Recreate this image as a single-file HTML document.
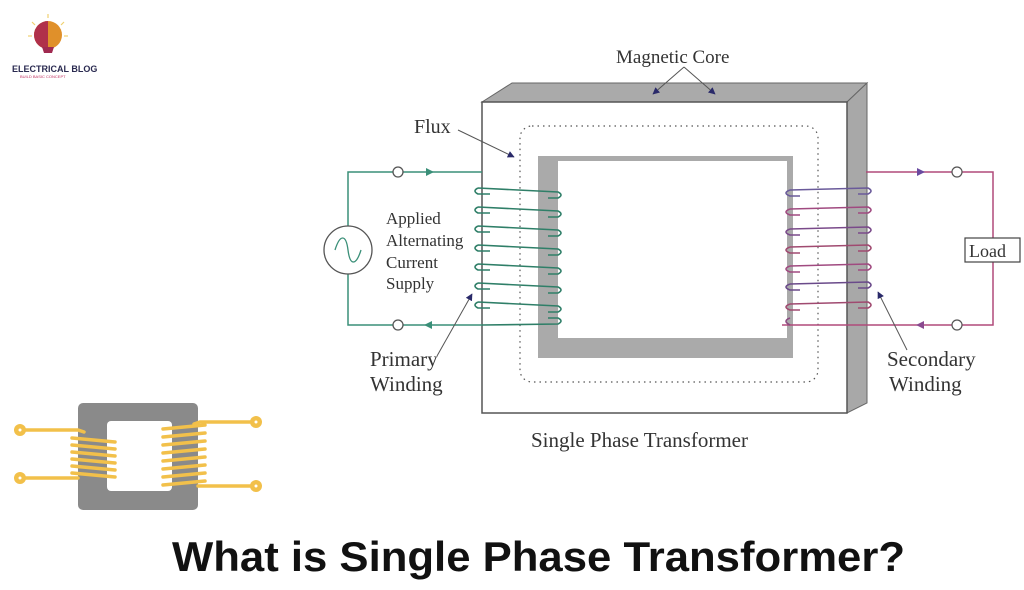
<!DOCTYPE html>
<html><head><meta charset="utf-8"><style>
html,body{margin:0;padding:0;background:#fff;}
svg{display:block}
text{font-family:"Liberation Serif",serif;fill:#333}
</style></head><body>
<svg width="1024" height="590" viewBox="0 0 1024 590" xmlns="http://www.w3.org/2000/svg">
<defs>
<marker id="ah" viewBox="0 0 10 10" refX="9" refY="5" markerWidth="7" markerHeight="7" orient="auto"><path d="M0,0 L10,5 L0,10 z" fill="#2a2a6a"/></marker>
</defs>
<!-- logo -->
<g>
<g stroke="#f0d070" stroke-width="1.2">
<line x1="48" y1="14" x2="48" y2="18"/><line x1="32" y1="22" x2="35" y2="25"/><line x1="64" y1="22" x2="61" y2="25"/>
<line x1="28" y1="36" x2="32" y2="36"/><line x1="68" y1="36" x2="64" y2="36"/>
</g>
<circle cx="48" cy="35" r="14" fill="#e0902a"/>
<path d="M48,21 A14,14 0 0 0 48,49 z" fill="#b0304a"/>
<path d="M42,47 L54,47 L52,53 L44,53 z" fill="#a02a50"/>
<text x="12" y="72" style="font-family:'Liberation Sans',sans-serif;font-weight:bold;font-size:9px;fill:#2a2a50">ELECTRICAL BLOG</text>
<text x="20" y="78" style="font-family:'Liberation Sans',sans-serif;font-size:4px;fill:#c03060">BUILD BASIC CONCEPT</text>
</g>
<!-- core 3D -->
<polygon points="482,102 512,83 867,83 847,102" fill="#aaa" stroke="#666" stroke-width="1"/>
<polygon points="847,102 867,83 867,403 847,413" fill="#a8a8a8" stroke="#666" stroke-width="1"/>
<rect x="482" y="102" width="365" height="311" fill="#fff" stroke="#555" stroke-width="1.5"/>
<rect x="538" y="156" width="255" height="202" fill="#aaa"/>
<rect x="558" y="161" width="229" height="177" fill="#fff"/>
<rect x="520" y="126" width="298" height="256" rx="12" fill="none" stroke="#555" stroke-width="1.2" stroke-dasharray="1.5,4"/>
<!-- left circuit -->
<g stroke="#3a8f78" stroke-width="1.5" fill="none">
<polyline points="482,172 348,172 348,226"/>
<polyline points="482,325 348,325 348,274"/>
</g>
<circle cx="348" cy="250" r="24" fill="#fff" stroke="#555" stroke-width="1.3"/>
<path d="M335,250 C340,234 346,234 348,250 C350,266 356,266 361,250" fill="none" stroke="#3a8f78" stroke-width="1.3"/>
<circle cx="398" cy="172" r="5" fill="#fff" stroke="#555" stroke-width="1.3"/>
<circle cx="398" cy="325" r="5" fill="#fff" stroke="#555" stroke-width="1.3"/>
<polygon points="426,168 434,172 426,176" fill="#3a8f78"/>
<polygon points="432,321 424,325 432,329" fill="#3a8f78"/>
<!-- left coils -->
<g stroke="#2f7f68" stroke-width="1.6" fill="none">
<path d="M478,188 L558,192 Q564,195 558,198 L548,198 M490,194 L478,194 Q472,191 478,188"/>
<path d="M478,207 L558,211 Q564,214 558,217 L548,217 M490,213 L478,213 Q472,210 478,207"/>
<path d="M478,226 L558,230 Q564,233 558,236 L548,236 M490,232 L478,232 Q472,229 478,226"/>
<path d="M478,245 L558,249 Q564,252 558,255 L548,255 M490,251 L478,251 Q472,248 478,245"/>
<path d="M478,264 L558,268 Q564,271 558,274 L548,274 M490,270 L478,270 Q472,267 478,264"/>
<path d="M478,283 L558,287 Q564,290 558,293 L548,293 M490,289 L478,289 Q472,286 478,283"/>
<path d="M478,302 L558,306 Q564,309 558,312 L548,312 M490,308 L478,308 Q472,305 478,302"/>
<path d="M482,325 L558,324 Q564,321 558,318 L548,318"/>
</g>
<!-- right circuit -->
<g stroke="#b04a7a" stroke-width="1.5" fill="none">
<polyline points="866,172 993,172 993,238"/>
<polyline points="782,325 993,325 993,262"/>
</g>
<circle cx="957" cy="172" r="5" fill="#fff" stroke="#555" stroke-width="1.2"/>
<circle cx="957" cy="325" r="5" fill="#fff" stroke="#555" stroke-width="1.2"/>
<polygon points="917,168 925,172 917,176" fill="#6a4aa0"/>
<polygon points="924,321 916,325 924,329" fill="#8a4a90"/>
<rect x="965" y="238" width="55" height="24" fill="#fff" stroke="#444" stroke-width="1.2"/>
<text x="969" y="257" style="font-size:18px">Load</text>
<!-- right coils -->
<g stroke-width="1.6" fill="none">
<path stroke="#6a5a9a" d="M790,190 L868,188 Q874,191 868,194 L858,194 M790,190 Q782,193 790,196 L800,196"/>
<path stroke="#a04a80" d="M790,209 L868,207 Q874,210 868,213 L858,213 M790,209 Q782,212 790,215 L800,215"/>
<path stroke="#7a4a8a" d="M790,229 L868,227 Q874,230 868,233 L858,233 M790,229 Q782,232 790,235 L800,235"/>
<path stroke="#a04a70" d="M790,247 L868,245 Q874,248 868,251 L858,251 M790,247 Q782,250 790,253 L800,253"/>
<path stroke="#a04a80" d="M790,266 L868,264 Q874,267 868,270 L858,270 M790,266 Q782,269 790,272 L800,272"/>
<path stroke="#6a4a8a" d="M790,284 L868,282 Q874,285 868,288 L858,288 M790,284 Q782,287 790,290 L800,290"/>
<path stroke="#a04a70" d="M790,304 L868,302 Q874,305 868,308 L858,308 M790,304 Q782,307 790,310 L800,310"/>
<path stroke="#8a4a80" d="M790,318 Q782,321 790,325"/>
</g>
<!-- labels & arrows -->
<text x="616" y="63" style="font-size:19px">Magnetic Core</text>
<line x1="684" y1="67" x2="653" y2="94" stroke="#555" stroke-width="1" marker-end="url(#ah)"/>
<line x1="684" y1="67" x2="715" y2="94" stroke="#555" stroke-width="1" marker-end="url(#ah)"/>
<text x="414" y="133" style="font-size:20px">Flux</text>
<line x1="458" y1="130" x2="514" y2="157" stroke="#555" stroke-width="1" marker-end="url(#ah)"/>
<text x="386" y="224" style="font-size:17px">Applied</text>
<text x="386" y="246" style="font-size:17px">Alternating</text>
<text x="386" y="268" style="font-size:17px">Current</text>
<text x="386" y="289" style="font-size:17px">Supply</text>
<text x="370" y="366" style="font-size:21px">Primary</text>
<text x="370" y="391" style="font-size:21px">Winding</text>
<line x1="437" y1="356" x2="472" y2="294" stroke="#555" stroke-width="1" marker-end="url(#ah)"/>
<text x="887" y="366" style="font-size:21px">Secondary</text>
<text x="889" y="391" style="font-size:21px">Winding</text>
<line x1="907" y1="350" x2="878" y2="292" stroke="#555" stroke-width="1" marker-end="url(#ah)"/>
<text x="531" y="447" style="font-size:21px">Single Phase Transformer</text>
<!-- small icon -->
<rect x="78" y="403" width="120" height="107" rx="5" fill="#8a8a8a"/>
<rect x="107" y="421" width="65" height="70" rx="4" fill="#fff"/>
<g stroke="#f2c04a" stroke-width="3.5" fill="none" stroke-linecap="round">
<polyline points="20,430 78,430 84,432"/>
<polyline points="20,478 78,478"/>
<polyline points="255,422 200,422 194,424"/>
<polyline points="255,486 198,486"/>
<line x1="72" y1="438" x2="115" y2="442"/><line x1="72" y1="445" x2="115" y2="449"/>
<line x1="72" y1="452" x2="115" y2="456"/><line x1="72" y1="459" x2="115" y2="463"/>
<line x1="72" y1="466" x2="115" y2="470"/><line x1="72" y1="473" x2="115" y2="477"/>
<line x1="163" y1="429" x2="205" y2="425"/><line x1="163" y1="437" x2="205" y2="433"/>
<line x1="163" y1="445" x2="205" y2="441"/><line x1="163" y1="453" x2="205" y2="449"/>
<line x1="163" y1="461" x2="205" y2="457"/><line x1="163" y1="469" x2="205" y2="465"/>
<line x1="163" y1="477" x2="205" y2="473"/><line x1="163" y1="485" x2="205" y2="481"/>
</g>
<g fill="#f2c04a"><circle cx="20" cy="430" r="6"/><circle cx="20" cy="478" r="6"/><circle cx="256" cy="422" r="6"/><circle cx="256" cy="486" r="6"/></g>
<g fill="#fff"><circle cx="20" cy="430" r="1.5"/><circle cx="20" cy="478" r="1.5"/><circle cx="256" cy="422" r="1.5"/><circle cx="256" cy="486" r="1.5"/></g>
<!-- title -->
<text x="172" y="571" textLength="733" lengthAdjust="spacingAndGlyphs" style="font-family:'Liberation Sans',sans-serif;font-weight:bold;font-size:42px;fill:#111">What is Single Phase Transformer?</text>
</svg>
</body></html>
